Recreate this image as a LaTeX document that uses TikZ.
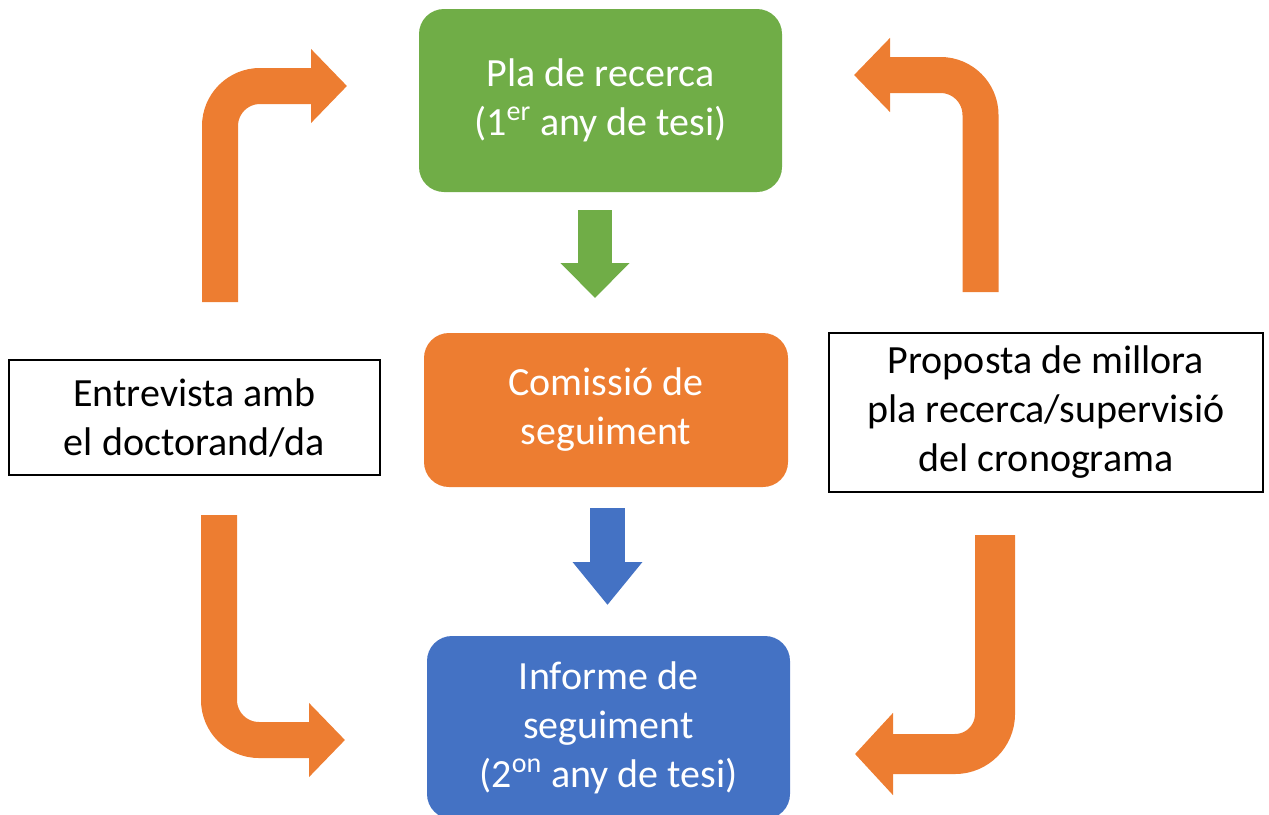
\documentclass[tikz,border=0pt]{standalone}
\usepackage{fontspec}
\setmainfont{Carlito}
\usetikzlibrary{arrows.meta,positioning}
\definecolor{plagreen}{HTML}{70AD47}
\definecolor{comorange}{HTML}{ED7D31}
\definecolor{infblue}{HTML}{4472C4}
\tikzset{
	boxfont/.style={font=\fontsize{20}{24.5}\selectfont},
	stagebox/.style={boxfont, rounded corners=12.5pt, text=white, align=center, inner sep=0pt},
	notebox/.style={boxfont, draw=black, line width=1pt, fill=white, align=center, inner sep=0pt},
	bendarrow/.style={draw=comorange, line width=18pt, rounded corners=20pt, -{Triangle[width=36pt,length=18pt]}},
	downarrow/.style={line width=17pt, -{Triangle[width=33.5pt,length=17.5pt]}},
}

\begin{document}
\begin{tikzpicture}[x=0.5pt,y=-0.5pt]
	\useasboundingbox (0,0) rectangle (1269,814);
	
	\node[stagebox, fill=plagreen, minimum width=181.5pt, minimum height=91.5pt] (pla) at (600.5,100.5)
		{Pla de recerca\\(1\textsuperscript{er} any de tesi)};
	\node[stagebox, fill=comorange, minimum width=182pt, minimum height=77pt] (comissio) at (606,410)
		{Comissió de\\seguiment};
	\node[stagebox, fill=infblue, minimum width=181.5pt, minimum height=91.5pt] (informe) at (608.5,727.5)
		{Informe de\\seguiment\\(2\textsuperscript{on} any de tesi)};
	\node[notebox, minimum width=185.5pt, minimum height=57.5pt] (entrevista) at (194.5,417.5)
		{Entrevista amb\\el doctorand/da};
	\node[notebox, minimum width=217pt, minimum height=79.5pt] (proposta) at (1046,412.5)
		{Proposta de millora\\pla recerca/supervisió\\del cronograma};
	
	\coordinate (tl0) at (220,302);
	\coordinate (tl1) at (347,86);
	\coordinate (bl0) at (219,515);
	\coordinate (bl1) at (345,740);
	\coordinate (tr0) at (980.5,292);
	\coordinate (tr1) at (854,75);
	\coordinate (br0) at (995,535);
	\coordinate (br1) at (855,754);
	\coordinate (g0) at (595,210);
	\coordinate (g1) at (595,298);
	\coordinate (b0) at (607.5,508);
	\coordinate (b1) at (607.5,605);
	
	\draw[downarrow, draw=plagreen] (g0) -- (g1);
	\draw[downarrow, draw=infblue, line width=17.5pt, -{Triangle[width=33.5pt,length=21.5pt]}] (b0) -- (b1);
	\draw[bendarrow] (tl0) |- (tl1);
	\draw[bendarrow] (bl0) |- (bl1);
	\draw[bendarrow] (tr0) |- (tr1);
	\draw[bendarrow, line width=20pt, -{Triangle[width=40pt,length=19pt]}] (br0) |- (br1);
\end{tikzpicture}
\end{document}
